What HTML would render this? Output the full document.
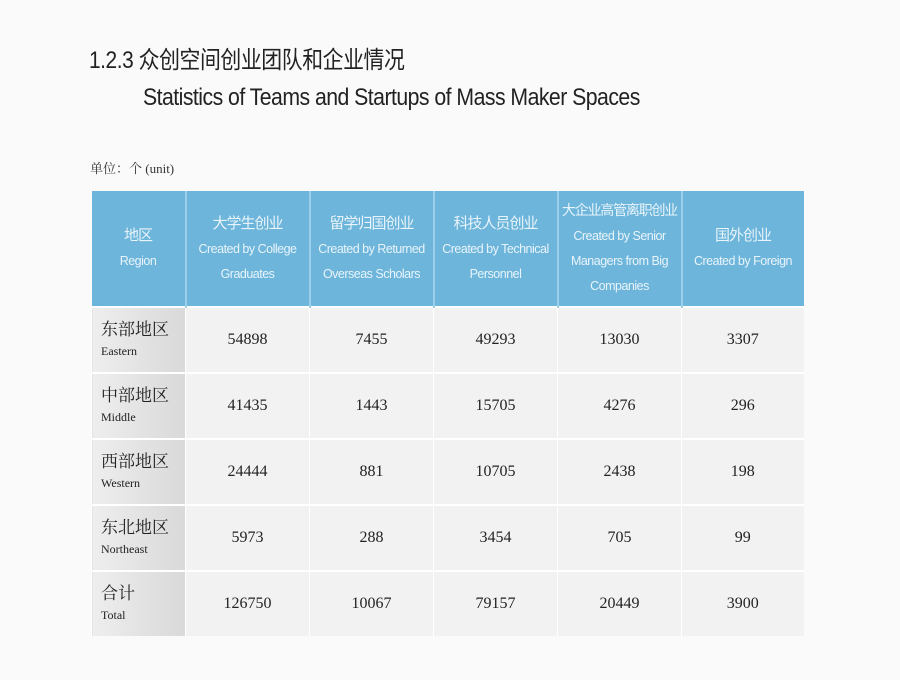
<!DOCTYPE html>
<html><head><meta charset="utf-8"><style>
body{margin:0;width:900px;height:680px;background:#fafafa;position:relative;overflow:hidden;font-family:"Liberation Sans","Noto Sans CJK SC",sans-serif}
.t1{position:absolute;left:89px;top:40px;font-size:24px;color:#222;letter-spacing:-0.5px;transform:scaleX(0.87);transform-origin:left;white-space:nowrap}
.t2{position:absolute;left:143px;top:84px;font-size:24px;color:#222;letter-spacing:-0.6px;transform:scaleX(0.885);transform-origin:left;white-space:nowrap}
.u{position:absolute;left:90px;top:158px;font-size:13px;color:#333;font-family:"Liberation Serif","Noto Serif CJK SC",serif}
table{position:absolute;left:91px;top:191px;width:712px;border-collapse:collapse;table-layout:fixed}
th{background:#6db5da;color:#e8f4fb;font-weight:normal;font-size:12.5px;line-height:25px;height:115px;padding:0;border-left:2px solid #9ccfe8;vertical-align:middle;letter-spacing:-0.5px;white-space:nowrap;overflow:hidden}
th b{font-weight:normal;font-size:15px;letter-spacing:-1px}
th b.s{font-size:14px;letter-spacing:-1.2px}
th:first-child{border-left:none}
td{height:64px;padding:0;background:#f2f2f2;border-top:2px solid #fff;border-left:1px solid #fff;text-align:center;font-family:"Liberation Serif","Noto Serif CJK SC",serif;font-size:16px;color:#222}
td.r{text-align:left;padding-left:9px;background:linear-gradient(90deg,#eee,#d9d9d9);font-size:17px;line-height:20px}
td.r small{font-size:12px}
</style></head><body>
<div class="t1">1.2.3 众创空间创业团队和企业情况</div>
<div class="t2">Statistics of Teams and Startups of Mass Maker Spaces</div>
<div class="u">单位：个 (unit)</div>
<table>
<colgroup><col style="width:94px"><col style="width:124px"><col style="width:124px"><col style="width:124px"><col style="width:124px"><col style="width:122px"></colgroup>
<tr><th><b>地区</b><br>Region</th><th><b>大学生创业</b><br>Created by College<br>Graduates</th><th><b>留学归国创业</b><br>Created by Returned<br>Overseas Scholars</th><th><b>科技人员创业</b><br>Created by Technical<br>Personnel</th><th><b class="s">大企业高管离职创业</b><br>Created by Senior<br>Managers from Big<br>Companies</th><th><b>国外创业</b><br>Created by Foreign</th></tr>
<tr><td class="r">东部地区<br><small>Eastern</small></td><td>54898</td><td>7455</td><td>49293</td><td>13030</td><td>3307</td></tr>
<tr><td class="r">中部地区<br><small>Middle</small></td><td>41435</td><td>1443</td><td>15705</td><td>4276</td><td>296</td></tr>
<tr><td class="r">西部地区<br><small>Western</small></td><td>24444</td><td>881</td><td>10705</td><td>2438</td><td>198</td></tr>
<tr><td class="r">东北地区<br><small>Northeast</small></td><td>5973</td><td>288</td><td>3454</td><td>705</td><td>99</td></tr>
<tr><td class="r">合计<br><small>Total</small></td><td>126750</td><td>10067</td><td>79157</td><td>20449</td><td>3900</td></tr>
</table>
</body></html>
